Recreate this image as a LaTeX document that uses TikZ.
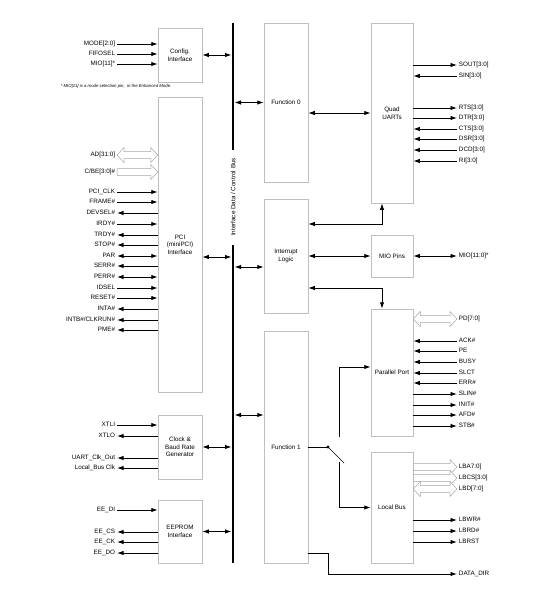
\documentclass[tikz,border=0pt]{standalone}
\usepackage{fontspec}
\setmainfont{Liberation Sans}
\usepackage{tikz}
\usetikzlibrary{calc,arrows.meta}

% 空心总线箭头（单向 / 双向）
\newcommand{\fatR}[2]{\path[fat] let \p1=#1, \p2=#2 in
  (\x1,\y1+3.5pt) -- (\x2-7pt,\y1+3.5pt) -- (\x2-7pt,\y1+7.5pt) -- (\x2,\y1)
  -- (\x2-7pt,\y1-7.5pt) -- (\x2-7pt,\y1-3.5pt) -- (\x1,\y1-3.5pt) -- cycle;}
\newcommand{\fatLR}[2]{\path[fat] let \p1=#1, \p2=#2 in
  (\x1,\y1) -- (\x1+7pt,\y1+7.5pt) -- (\x1+7pt,\y1+3.5pt) -- (\x2-7pt,\y1+3.5pt)
  -- (\x2-7pt,\y1+7.5pt) -- (\x2,\y1) -- (\x2-7pt,\y1-7.5pt) -- (\x2-7pt,\y1-3.5pt)
  -- (\x1+7pt,\y1-3.5pt) -- (\x1+7pt,\y1-7.5pt) -- cycle;}

\begin{document}
\begin{tikzpicture}[x=1pt, y=-1pt, line width=0.9pt,
    >={Latex[length=6.5pt,width=4.4pt]},
    every node/.style={font=\fontsize{6.3}{7.5}\selectfont},
    blk/.style={draw=black!25, line width=0.5pt, align=center, inner sep=0pt},
    sigL/.style={anchor=east, inner sep=1.5pt, text height=4.6pt, text depth=1pt},
    sigR/.style={anchor=west, inner sep=1.5pt, text height=4.6pt, text depth=1pt},
    fat/.style={draw=black!35, fill=white, line width=0.5pt}]
  \useasboundingbox (0,0) rectangle (542,595);

  % 模块
  \node[blk, minimum width=44pt, minimum height=54pt] (cfg) at (180,55) {Config.\\Interface};
  \node[blk, minimum width=44pt, minimum height=295pt] (pci) at (180,244.5) {PCI\\(miniPCI)\\Interface};
  \node[blk, minimum width=44pt, minimum height=64pt] (clk) at (180,447) {Clock \&\\Baud Rate\\Generator};
  \node[blk, minimum width=44pt, minimum height=63pt] (eep) at (180,531.5) {EEPROM\\Interface};
  \node[blk, minimum width=44pt, minimum height=159pt] (fn0) at (286,102.5) {Function 0};
  \node[blk, minimum width=44pt, minimum height=114pt] (irq) at (286,256) {Interrupt\\Logic};
  \node[blk, minimum width=44pt, minimum height=232pt] (fn1) at (286,447) {Function 1};
  \node[blk, minimum width=42pt, minimum height=180pt] (uart) at (392,113) {Quad\\UARTs};
  \node[blk, minimum width=42pt, minimum height=42pt] (mio) at (392,256) {MIO Pins};
  \node[blk, minimum width=42pt, minimum height=127pt] (par) at (392,372.5) {Parallel Port};
  \node[blk, minimum width=42pt, minimum height=111pt] (lb) at (392,507.5) {Local Bus};

  % 内部总线
  \coordinate (bustop) at (233,23);
  \coordinate (busgapA) at (233,150);
  \coordinate (busgapB) at (233,245);
  \coordinate (busbot) at (233,563);
  \draw[line width=2.6pt] (bustop) -- (busgapA);
  \draw[line width=2.6pt] (busgapB) -- (busbot);
  \node[rotate=90] (buslbl) at (233,197) {Interface Data / Control Bus};
  \coordinate (busL) at (231.5,0);
  \coordinate (busR) at (234.5,0);

  % 模块与总线
  \draw[<->] (cfg.east) -- (cfg.east -| busL);
  \draw[<->] (pci.east |- 0,257) -- (busL |- 0,257);
  \draw[<->] (clk.east) -- (clk.east -| busL);
  \draw[<->] (eep.east) -- (eep.east -| busL);
  \draw[<->] (busR |- fn0.west) -- (fn0.west);
  \draw[<->] (busR |- 0,267) -- (irq.west |- 0,267);
  \draw[<->] (busR |- 0,415) -- (fn1.west |- 0,415);

  % 模块之间
  \draw[<->] (fn0.east |- uart.west) -- (uart.west);
  \draw[<->] (irq) -- (mio);
  \draw[<->] (irq.east |- 0,224) -| ($(uart.south)+(-10,0)$);
  \draw[<->] (irq.east |- 0,288) -| ($(par.north)+(-10,0)$);

  % Function 1 的开关
  \coordinate (sw) at (328,447);
  \coordinate (swtip) at (344,463);
  \coordinate (swtop) at (339,437);
  \coordinate (swbot) at (339,462);
  \draw (fn1.east |- sw) -- (sw);
  \draw[line width=0.7pt] (sw) -- (swtip);
  \fill (sw) circle (1.6pt);
  \draw[->] (swtop) |- (par.west |- 0,367);
  \draw[->] (swbot) |- (lb.west);

  % Config 信号
  \node[sigL] (mode) at (117,44) {MODE[2:0]};
  \node[sigL] (fifosel) at (117,54) {FIFOSEL};
  \node[sigL] (miosel) at (117,64) {MIO[11]*};
  \draw[->] (mode) -- (mode -| cfg.west);
  \draw[->] (fifosel) -- (fifosel -| cfg.west);
  \draw[->] (miosel) -- (miosel -| cfg.west);
  \node[anchor=west, font=\fontsize{4.3}{5}\selectfont\itshape] (note) at (57,86)
    {* MIO[11] is a mode selection pin,\ \ in the Enhanced Mode.};

  % PCI 信号
  \node[sigL] (ad) at (117,155) {AD[31:0]};
  \node[sigL] (cbe) at (117,172) {C/BE[3:0]\#};
  \fatLR{(ad.east)}{(ad.east -| pci.west)}
  \fatR{(cbe.east)}{(cbe.east -| pci.west)}
  \node[sigL] (pciclk) at (117,192) {PCI\_CLK};
  \node[sigL] (frame) at (117,202) {FRAME\#};
  \node[sigL] (devsel) at (117,213) {DEVSEL\#};
  \node[sigL] (irdy) at (117,224) {IRDY\#};
  \node[sigL] (trdy) at (117,235) {TRDY\#};
  \node[sigL] (stop) at (117,245) {STOP\#};
  \node[sigL] (parity) at (117,256) {PAR};
  \node[sigL] (serr) at (117,266) {SERR\#};
  \node[sigL] (perr) at (117,277) {PERR\#};
  \node[sigL] (idsel) at (117,288) {IDSEL};
  \node[sigL] (reset) at (117,298) {RESET\#};
  \node[sigL] (inta) at (117,309) {INTA\#};
  \node[sigL] (intb) at (117,320) {INTB\#/CLKRUN\#};
  \node[sigL] (pme) at (117,330) {PME\#};
  \draw[->] (pciclk) -- (pciclk -| pci.west);
  \draw[->] (frame) -- (frame -| pci.west);
  \draw[<-] (devsel) -- (devsel -| pci.west);
  \draw[->] (irdy) -- (irdy -| pci.west);
  \draw[<-] (trdy) -- (trdy -| pci.west);
  \draw[<-] (stop) -- (stop -| pci.west);
  \draw[<->] (parity) -- (parity -| pci.west);
  \draw[<-] (serr) -- (serr -| pci.west);
  \draw[<->] (perr) -- (perr -| pci.west);
  \draw[->] (idsel) -- (idsel -| pci.west);
  \draw[->] (reset) -- (reset -| pci.west);
  \draw[<-] (inta) -- (inta -| pci.west);
  \draw[<-] (intb) -- (intb -| pci.west);
  \draw[<-] (pme) -- (pme -| pci.west);

  % 时钟信号
  \node[sigL] (xtli) at (117,425) {XTLI};
  \node[sigL] (xtlo) at (117,436) {XTLO};
  \node[sigL] (uartclk) at (117,458) {UART\_Clk\_Out};
  \node[sigL] (lbclk) at (117,468) {Local\_Bus Clk};
  \draw[->] (xtli) -- (xtli -| clk.west);
  \draw[<-] (xtlo) -- (xtlo -| clk.west);
  \draw[<-] (uartclk) -- (uartclk -| clk.west);
  \draw[<-] (lbclk) -- (lbclk -| clk.west);

  % EEPROM 信号
  \node[sigL] (eedi) at (117,510) {EE\_DI};
  \node[sigL] (eecs) at (117,532) {EE\_CS};
  \node[sigL] (eeck) at (117,542) {EE\_CK};
  \node[sigL] (eedo) at (117,553) {EE\_DO};
  \draw[->] (eedi) -- (eedi -| eep.west);
  \draw[<-] (eecs) -- (eecs -| eep.west);
  \draw[<-] (eeck) -- (eeck -| eep.west);
  \draw[<-] (eedo) -- (eedo -| eep.west);

  % UART 信号
  \node[sigR] (sout) at (457,65) {SOUT[3:0]};
  \node[sigR] (sin) at (457,76) {SIN[3:0]};
  \node[sigR] (rts) at (457,108) {RTS[3:0]};
  \node[sigR] (dtr) at (457,118) {DTR[3:0]};
  \node[sigR] (cts) at (457,129) {CTS[3:0]};
  \node[sigR] (dsr) at (457,139) {DSR[3:0]};
  \node[sigR] (dcd) at (457,150) {DCD[3:0]};
  \node[sigR] (ri) at (457,161) {RI[3:0]};
  \draw[->] (uart.east |- sout) -- (sout);
  \draw[<-] (uart.east |- sin) -- (sin);
  \draw[->] (uart.east |- rts) -- (rts);
  \draw[->] (uart.east |- dtr) -- (dtr);
  \draw[<-] (uart.east |- cts) -- (cts);
  \draw[<-] (uart.east |- dsr) -- (dsr);
  \draw[<-] (uart.east |- dcd) -- (dcd);
  \draw[<-] (uart.east |- ri) -- (ri);

  % MIO 引脚
  \node[sigR] (miopins) at (457,256) {MIO[11:0]*};
  \draw[<->] (mio.east) -- (miopins);

  % 并口信号
  \node[sigR] (pd) at (457,319) {PD[7:0]};
  \fatLR{(par.east |- pd.west)}{(pd.west)}
  \node[sigR] (ack) at (457,341) {ACK\#};
  \node[sigR] (pe) at (457,351) {PE};
  \node[sigR] (busy) at (457,362) {BUSY};
  \node[sigR] (slct) at (457,373) {SLCT};
  \node[sigR] (err) at (457,383) {ERR\#};
  \node[sigR] (slin) at (457,394) {SLIN\#};
  \node[sigR] (init) at (457,405) {INIT\#};
  \node[sigR] (afd) at (457,415) {AFD\#};
  \node[sigR] (stb) at (457,426) {STB\#};
  \draw[<-] (par.east |- ack) -- (ack);
  \draw[<-] (par.east |- pe) -- (pe);
  \draw[<-] (par.east |- busy) -- (busy);
  \draw[<-] (par.east |- slct) -- (slct);
  \draw[<-] (par.east |- err) -- (err);
  \draw[->] (par.east |- slin) -- (slin);
  \draw[->] (par.east |- init) -- (init);
  \draw[->] (par.east |- afd) -- (afd);
  \draw[->] (par.east |- stb) -- (stb);

  % 本地总线信号
  \node[sigR] (lba) at (457,467) {LBA7:0]};
  \node[sigR] (lbcs) at (457,478) {LBCS[3:0]};
  \node[sigR] (lbd) at (457,489) {LBD[7:0]};
  \fatR{(lb.east |- lba.west)}{(lba.west)}
  \fatR{(lb.east |- lbcs.west)}{(lbcs.west)}
  \fatLR{(lb.east |- lbd.west)}{(lbd.west)}
  \node[sigR] (lbwr) at (457,520) {LBWR\#};
  \node[sigR] (lbrd) at (457,531) {LBRD\#};
  \node[sigR] (lbrst) at (457,542) {LBRST};
  \draw[->] (lb.east |- lbwr) -- (lbwr);
  \draw[->] (lb.east |- lbrd) -- (lbrd);
  \draw[->] (lb.east |- lbrst) -- (lbrst);

  % DATA_DIR
  \node[sigR] (datadir) at (457,574) {DATA\_DIR};
  \draw[->] (fn1.east |- 0,553) -- (328,553) |- (datadir);
\end{tikzpicture}
\end{document}
